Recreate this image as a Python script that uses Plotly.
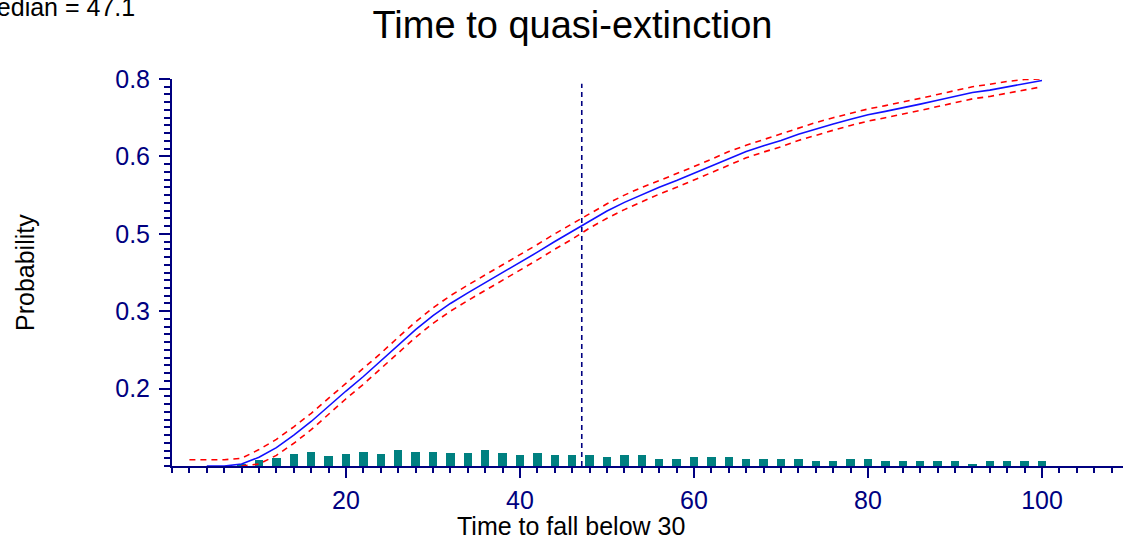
import plotly.graph_objects as go

# ---- data ----------------------------------------------------------------
# cumulative probability of falling below the threshold, by year
t_cum = list(range(4, 101, 2))
prob_cum = [0.0, 0.0, 0.004, 0.018, 0.038, 0.064, 0.092, 0.124, 0.155, 0.185,
            0.217, 0.250, 0.282, 0.311, 0.336, 0.358, 0.379, 0.399, 0.420, 0.442,
            0.464, 0.485, 0.507, 0.527, 0.545, 0.561, 0.576, 0.590, 0.605, 0.620,
            0.636, 0.650, 0.662, 0.673, 0.686, 0.697, 0.707, 0.717, 0.726, 0.733,
            0.740, 0.748, 0.756, 0.764, 0.772, 0.777, 0.784, 0.790, 0.797]

# confidence bounds
t_upper = list(range(2, 101, 2))
prob_upper = [0.013, 0.013, 0.013, 0.016, 0.034, 0.055, 0.081, 0.109, 0.140, 0.171,
              0.201, 0.233, 0.266, 0.298, 0.327, 0.352, 0.374, 0.395, 0.415, 0.436,
              0.458, 0.480, 0.501, 0.522, 0.542, 0.560, 0.576, 0.590, 0.604, 0.619,
              0.634, 0.650, 0.663, 0.675, 0.686, 0.699, 0.710, 0.720, 0.729, 0.738,
              0.745, 0.752, 0.760, 0.768, 0.776, 0.784, 0.789, 0.795, 0.799, 0.800]

t_lower = list(range(8, 101, 2))
prob_lower = [0.0, 0.004, 0.022, 0.047, 0.075, 0.108, 0.139, 0.169, 0.201, 0.234,
              0.266, 0.295, 0.320, 0.342, 0.363, 0.383, 0.404, 0.426, 0.448, 0.469,
              0.492, 0.512, 0.530, 0.546, 0.562, 0.576, 0.591, 0.606, 0.622, 0.637,
              0.649, 0.660, 0.673, 0.684, 0.694, 0.704, 0.713, 0.720, 0.727, 0.735,
              0.743, 0.751, 0.759, 0.764, 0.771, 0.777, 0.784]

# probability of first falling below the threshold in each 2-year interval
t_interval = list(range(8, 101, 2))
prob_interval = [0.0035, 0.012, 0.0165, 0.0255, 0.0296, 0.0207, 0.0255, 0.0296, 0.0255, 0.0338,
                 0.0296, 0.0296, 0.0276, 0.0276, 0.0324, 0.0276, 0.0227, 0.0276, 0.0227, 0.0227,
                 0.0227, 0.0186, 0.0227, 0.0227, 0.0152, 0.0152, 0.0186, 0.0186, 0.0186, 0.0145,
                 0.0138, 0.0138, 0.0138, 0.0096, 0.0096, 0.0138, 0.0138, 0.0096, 0.0096, 0.0096,
                 0.0096, 0.0096, 0.0048, 0.0096, 0.0096, 0.0096, 0.0096]

median_time = 47.1
median_top = 0.79

x_tickvals = [20, 40, 60, 80, 100]
y_tickvals = [0.16, 0.32, 0.48, 0.64, 0.80]
y_ticktext = ["0.2", "0.3", "0.5", "0.6", "0.8"]

# ---- layout geometry (pixels) ------------------------------------------------
W, H = 1123, 544
L, R, T, B = 172, 0, 79, 78
plot_w = W - L - R
plot_h = H - T - B


def px_to_paper(px, py):
    return (px - L) / plot_w, (H - B - py) / plot_h


NAVY = "#000080"
FONT = "Arial, Liberation Sans, sans-serif"

fig = go.Figure()

fig.add_trace(go.Bar(
    x=t_interval, y=prob_interval, width=0.95,
    marker=dict(color="#008080", line=dict(width=0)),
    hoverinfo="skip",
))
fig.add_trace(go.Scatter(
    x=t_upper, y=prob_upper, mode="lines",
    line=dict(color="#ff0000", width=1.6, dash="6px,5px"),
))
fig.add_trace(go.Scatter(
    x=t_lower, y=prob_lower, mode="lines",
    line=dict(color="#ff0000", width=1.6, dash="6px,5px"),
))
fig.add_trace(go.Scatter(
    x=t_cum, y=prob_cum, mode="lines",
    line=dict(color="#1010ff", width=1.6),
))

fig.add_shape(type="line", xref="x", yref="y",
              x0=median_time, x1=median_time, y0=0, y1=median_top,
              line=dict(color=NAVY, width=1.6, dash="5px,4px"))

ax, ay = px_to_paper(571, 526)
fig.add_annotation(text="Time to fall below 30", xref="paper", yref="paper",
                   x=ax, y=ay, xanchor="center", yanchor="middle", showarrow=False,
                   font=dict(family=FONT, size=25, color="black"))
px_, py_ = px_to_paper(25, 273)
fig.add_annotation(text="Probability", xref="paper", yref="paper", textangle=-90,
                   x=px_, y=py_, xanchor="center", yanchor="middle", showarrow=False,
                   font=dict(family=FONT, size=25, color="black"))
mx, my = px_to_paper(137, 7)
fig.add_annotation(text=f"Median = {median_time}", xref="paper", yref="paper",
                   x=mx, y=my, xanchor="right", yanchor="middle", showarrow=False,
                   font=dict(family=FONT, size=25, color="black"))

fig.update_layout(
    width=W, height=H, autosize=False,
    margin=dict(l=L, r=R, t=T, b=B, pad=0),
    paper_bgcolor="white", plot_bgcolor="white",
    showlegend=False, bargap=0,
    title=dict(text="Time to quasi-extinction", xref="container", yref="container",
               x=572.5 / W, y=1 - 25 / H, xanchor="center", yanchor="middle",
               font=dict(family=FONT, size=38, color="black")),
    font=dict(family=FONT),
)

fig.update_xaxes(
    range=[0, plot_w / 8.7], showgrid=False, zeroline=False,
    showline=True, linecolor=NAVY, linewidth=2,
    tickmode="array", tickvals=x_tickvals,
    ticks="outside", ticklen=10, tickwidth=2, tickcolor=NAVY,
    ticklabelstandoff=1,
    tickfont=dict(family=FONT, size=25, color=NAVY),
    minor=dict(ticks="outside", ticklen=5, tickwidth=2, tickcolor=NAVY, dtick=2, tick0=0),
)
fig.update_yaxes(
    range=[0, 0.8], showgrid=False, zeroline=False,
    showline=True, linecolor=NAVY, linewidth=2,
    tickmode="array", tickvals=y_tickvals, ticktext=y_ticktext,
    ticks="outside", ticklen=11, tickwidth=2, tickcolor=NAVY,
    ticklabelstandoff=4,
    tickfont=dict(family=FONT, size=25, color=NAVY),
    minor=dict(ticks="outside", ticklen=6, tickwidth=2, tickcolor=NAVY, dtick=0.016, tick0=0),
)

fig.write_html("out.html")
